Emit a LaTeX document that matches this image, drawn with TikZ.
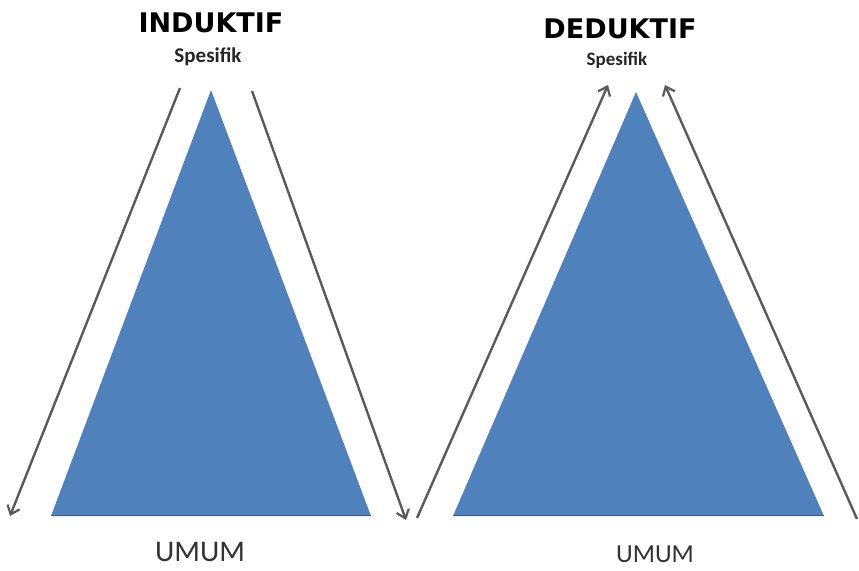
\documentclass[tikz,border=0pt]{standalone}
\usepackage{fontspec}
\setmainfont{Carlito}
\newfontfamily\titlefont{DejaVu Sans}
\usetikzlibrary{arrows.meta}
\definecolor{triblue}{HTML}{4F81BD}
\definecolor{tribase}{HTML}{3A5F8C}
\definecolor{arrowgray}{HTML}{5A5A5A}
\tikzset{
  tri/.style={fill=triblue, draw=none},
  flow/.style={draw=arrowgray, line width=2.4pt, -{Straight Barb[length=8pt,width=13pt,line width=2.2pt]}},
  title/.style={font=\titlefont\bfseries\fontsize{27}{30}\selectfont, text=black, inner sep=0pt},
  sub/.style={font=\bfseries\fontsize{21}{24}\selectfont, text=black!85, inner sep=0pt},
  base/.style={text=black!80, inner sep=0pt}
}
\begin{document}
\begin{tikzpicture}[x=1pt,y=-1pt]
\useasboundingbox (0,0) rectangle (859,570);
% left triangle
\coordinate (la) at (211,90);
\coordinate (lb) at (51,516);
\coordinate (lc) at (371,516);
\fill[tri] (la) -- (lb) -- (lc) -- cycle;
\draw[tribase, line width=1.2pt] (51,515.5) -- (371,515.5);
% right triangle
\coordinate (ra) at (636,92);
\coordinate (rb) at (453,516);
\coordinate (rc) at (824,516);
\fill[tri] (ra) -- (rb) -- (rc) -- cycle;
\draw[tribase, line width=1.2pt] (453,515.5) -- (824,515.5);
% arrows
\coordinate (a1s) at (180,88);
\coordinate (a1e) at (10,516);
\coordinate (a2s) at (252,91);
\coordinate (a2e) at (406,520);
\coordinate (a3s) at (417,518);
\coordinate (a3e) at (608,85);
\coordinate (a4s) at (857,519);
\coordinate (a4e) at (665,85);
\draw[flow] (a1s) -- (a1e);
\draw[flow] (a2s) -- (a2e);
\draw[flow] (a3s) -- (a3e);
\draw[flow] (a4s) -- (a4e);
% texts
\node[title] (t1) at (211,23) {INDUKTIF};
\node[sub] (s1) at (208,57) {Spesifik};
\node[title] (t2) at (620,29) {DEDUKTIF};
\node[sub, font=\bfseries\fontsize{19}{22}\selectfont] (s2) at (617,60) {Spesifik};
\node[base, font=\fontsize{30}{34}\selectfont] (u1) at (200,552) {UMUM};
\node[base, font=\fontsize{26}{30}\selectfont] (u2) at (655,554) {UMUM};
\end{tikzpicture}
\end{document}
